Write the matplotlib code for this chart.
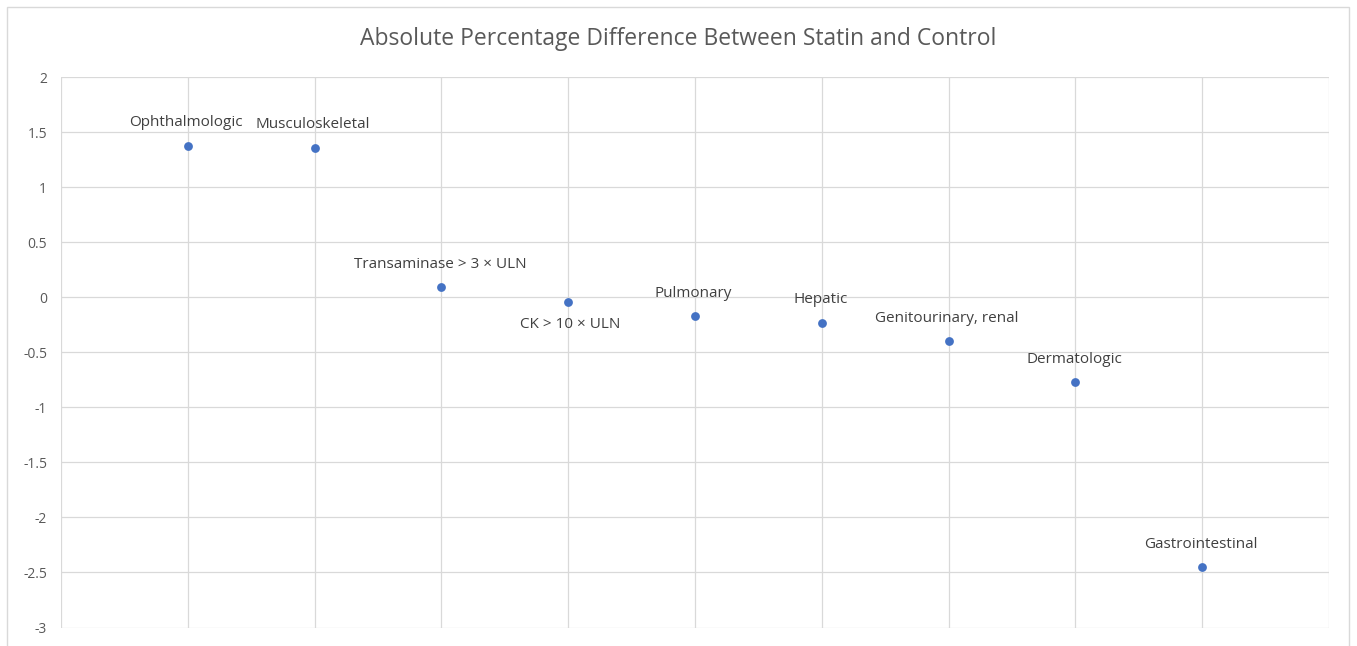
import matplotlib
matplotlib.use("Agg")
import matplotlib.pyplot as plt
from matplotlib.patches import Rectangle

plt.rcParams['font.family'] = ['Open Sans', 'DejaVu Sans']

categories = ["Ophthalmologic", "Musculoskeletal", "Transaminase > 3 \u00d7 ULN",
              "CK > 10 \u00d7 ULN", "Pulmonary", "Hepatic",
              "Genitourinary, renal", "Dermatologic", "Gastrointestinal"]
x_positions = [1, 2, 3, 4, 5, 6, 7, 8, 9]
values = [1.38, 1.36, 0.09, -0.04, -0.17, -0.23, -0.40, -0.77, -2.45]
label_side = ["above", "above", "above", "below", "above", "above", "above", "above", "above"]
y_ticks = [2, 1.5, 1, 0.5, 0, -0.5, -1, -1.5, -2, -2.5, -3]
y_tick_labels = ["2", "1.5", "1", "0.5", "0", "-0.5", "-1", "-1.5", "-2", "-2.5", "-3"]
title = "Absolute Percentage Difference Between Statin and Control"

W, H = 1357, 646
fig = plt.figure(figsize=(W / 100, H / 100), dpi=100)
fig.patch.set_facecolor("white")

# outer chart border
fig.patches.append(Rectangle((6.5 / W, -0.01), (1349 - 6.5) / W, 1.01 - 6.7 / H,
                             transform=fig.transFigure, fill=False,
                             edgecolor="#D9D9D9", linewidth=1.0))

ax = fig.add_axes([61 / W, 1 - 627.5 / H, (1329 - 61) / W, (627.5 - 77.3) / H])
ax.set_xlim(0, 10)
ax.set_ylim(-3, 2)
ax.set_xticks(range(0, 11))
ax.set_yticks(y_ticks)
ax.set_yticklabels(y_tick_labels)
ax.tick_params(axis="x", length=0, labelbottom=False)
ax.tick_params(axis="y", length=0, labelsize=10, colors="#595959", pad=10)
ax.grid(True, color="#D9D9D9", linewidth=0.9)
ax.set_axisbelow(True)
for sp in ax.spines.values():
    sp.set_visible(False)

ax.scatter(x_positions, values, s=40, color="#4472C4", zorder=3, linewidths=0)

for xp, v, lab, side in zip(x_positions, values, categories, label_side):
    if side == "above":
        ax.annotate(lab, (xp, v), xytext=(-1, 16.5), textcoords="offset points",
                    ha="center", va="center", fontsize=11, color="#404040")
    else:
        ax.annotate(lab, (xp, v), xytext=(1.5, -16), textcoords="offset points",
                    ha="center", va="center", fontsize=11, color="#404040")

fig.text(678 / W, 1 - 39 / H, title, ha="center", va="center", fontsize=16.5, color="#595959")

fig.savefig("out.png", dpi=100, facecolor="white")
